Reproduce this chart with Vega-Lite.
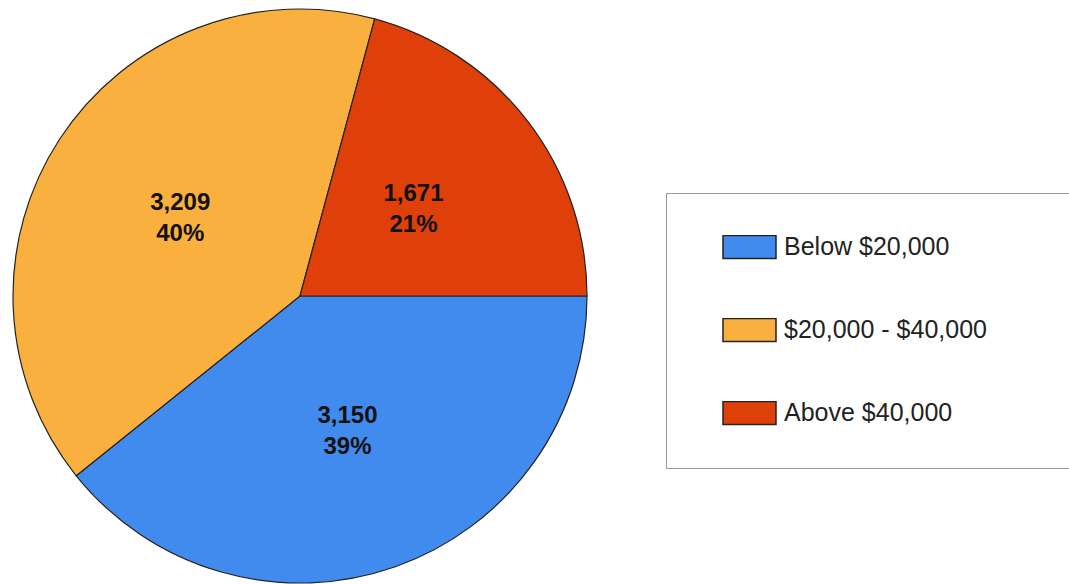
{
  "$schema": "https://vega.github.io/schema/vega-lite/v6.json",
  "width": 600,
  "height": 584,
  "padding": {"left": 0, "top": 4, "right": 0, "bottom": 0},
  "background": "white",
  "data": {
    "values": [
      {"category": "Below $20,000", "count": 3150, "pct": "39%", "ord": 1},
      {"category": "$20,000 - $40,000", "count": 3209, "pct": "40%", "ord": 2},
      {"category": "Above $40,000", "count": 1671, "pct": "21%", "ord": 3}
    ]
  },
  "transform": [
    {"calculate": "format(datum.count, ',') + '\\n' + datum.pct", "as": "label"}
  ],
  "encoding": {
    "theta": {
      "field": "count",
      "type": "quantitative",
      "stack": true,
      "scale": {"range": [1.5707963, 7.8539816]}
    },
    "order": {"field": "ord", "type": "quantitative"}
  },
  "layer": [
    {
      "mark": {"type": "arc", "outerRadius": 287, "stroke": "#222222", "strokeWidth": 1.2},
      "encoding": {
        "color": {
          "field": "category",
          "type": "nominal",
          "scale": {
            "domain": ["Below $20,000", "$20,000 - $40,000", "Above $40,000"],
            "range": ["#418BEE", "#FAB03F", "#DF400A"]
          },
          "legend": {
            "orient": "none",
            "legendX": 666,
            "legendY": 189,
            "title": "\u00a0",
            "titleOrient": "right",
            "titlePadding": 80,
            "titleFontSize": 10,
            "padding": 42,
            "clipHeight": 24,
            "strokeColor": "#9a9a9a",
            "fillColor": "white",
            "symbolType": "M-1,-0.43H1V0.43H-1Z",
            "symbolSize": 2809,
            "symbolOffset": 14,
            "symbolStrokeColor": "#222222",
            "symbolStrokeWidth": 1.5,
            "symbolOpacity": 1,
            "labelFont": "Liberation Sans",
            "labelFontSize": 25,
            "labelColor": "#222222",
            "labelOffset": 7,
            "labelLimit": 400,
            "rowPadding": 58
          }
        }
      }
    },
    {
      "mark": {
        "type": "text",
        "radius": 143,
        "dy": -15,
        "font": "Liberation Sans",
        "fontSize": 24,
        "fontWeight": "bold",
        "lineBreak": "\n",
        "lineHeight": 31,
        "baseline": "middle",
        "align": "center",
        "color": "#111111"
      },
      "encoding": {
        "text": {"field": "label", "type": "nominal"}
      }
    }
  ],
  "config": {"view": {"stroke": null}}
}
